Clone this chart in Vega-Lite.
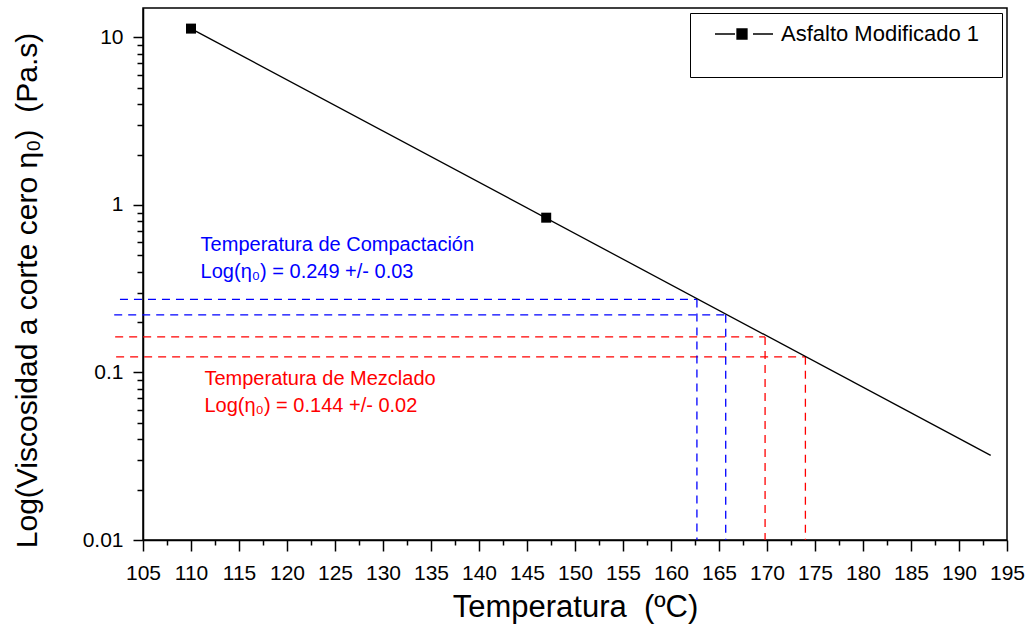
{
  "$schema": "https://vega.github.io/schema/vega-lite/v6.json",
  "autosize": "none",
  "width": 864,
  "height": 532,
  "padding": {"left": 143, "top": 8, "right": 22, "bottom": 91},
  "background": "white",
  "config": {
    "font": "Liberation Sans",
    "view": {"stroke": "black", "strokeWidth": 1.5},
    "axis": {
      "grid": false,
      "domainColor": "black",
      "domainWidth": 1.5,
      "tickColor": "black",
      "tickWidth": 1.5,
      "labelColor": "black",
      "labelFont": "Liberation Sans",
      "labelFontSize": 21,
      "labelPadding": 8,
      "labelOverlap": false,
      "labelFlush": false,
      "titleFont": "Liberation Sans",
      "titleFontWeight": "normal",
      "titleFontSize": 31,
      "titleColor": "black"
    }
  },
  "datasets": {
    "points": [
      {"temp": 110, "visc": 11.3, "series": "Asfalto Modificado 1"},
      {"temp": 147, "visc": 0.84, "series": "Asfalto Modificado 1"}
    ],
    "fit": [
      {"temp": 110, "visc": 11.3},
      {"temp": 193.3, "visc": 0.032}
    ],
    "hlines": [
      {"xa": 102.6, "xb": 162.7, "y": 0.273, "grp": "Compactación"},
      {"xa": 102.0, "xb": 165.7, "y": 0.221, "grp": "Compactación"},
      {"xa": 102.1, "xb": 169.8, "y": 0.163, "grp": "Mezclado"},
      {"xa": 102.2, "xb": 174.0, "y": 0.124, "grp": "Mezclado"}
    ],
    "vlines": [
      {"x": 162.7, "ya": 0.273, "yb": 0.01, "grp": "Compactación"},
      {"x": 165.7, "ya": 0.221, "yb": 0.01, "grp": "Compactación"},
      {"x": 169.8, "ya": 0.163, "yb": 0.01, "grp": "Mezclado"},
      {"x": 174.0, "ya": 0.124, "yb": 0.01, "grp": "Mezclado"}
    ],
    "notes": [
      {"x": 111.0, "y": 0.58, "text": "Temperatura de Compactación", "grp": "Compactación"},
      {"x": 111.0, "y": 0.40, "text": "Log(η₀) = 0.249 +/- 0.03", "grp": "Compactación"},
      {"x": 111.4, "y": 0.0909, "text": "Temperatura de Mezclado", "grp": "Mezclado"},
      {"x": 111.4, "y": 0.063, "text": "Log(η₀) = 0.144 +/- 0.02", "grp": "Mezclado"}
    ]
  },
  "encoding": {
    "x": {
      "type": "quantitative",
      "scale": {"domain": [105, 195], "nice": false, "zero": false},
      "axis": {
        "title": "Temperatura \u00a0(ºC)",
        "values": [105, 107.5, 110, 112.5, 115, 117.5, 120, 122.5, 125, 127.5, 130, 132.5, 135, 137.5, 140, 142.5, 145, 147.5, 150, 152.5, 155, 157.5, 160, 162.5, 165, 167.5, 170, 172.5, 175, 177.5, 180, 182.5, 185, 187.5, 190, 192.5, 195],
        "labelExpr": "datum.value % 5 == 0 ? '' + datum.value : ''",
        "tickSize": {"condition": {"test": "datum.value % 5 == 0", "value": 11}, "value": 5},
        "labelPadding": 11,
        "titleBaseline": "middle",
        "titleY": 67
      }
    },
    "y": {
      "type": "quantitative",
      "scale": {"type": "log", "domain": [0.01, 15], "nice": false},
      "axis": {
        "title": "Log(Viscosidad a corte cero η₀) \u00a0(Pa.s)",
        "values": [0.01, 0.02, 0.03, 0.04, 0.05, 0.06, 0.07, 0.08, 0.09, 0.1, 0.2, 0.3, 0.4, 0.5, 0.6, 0.7, 0.8, 0.9, 1, 2, 3, 4, 5, 6, 7, 8, 9, 10],
        "labelExpr": "(datum.value == 0.01 || datum.value == 0.1 || datum.value == 1 || datum.value == 10) ? '' + datum.value : ''",
        "tickSize": {"condition": {"test": "datum.value == 0.01 || datum.value == 0.1 || datum.value == 1 || datum.value == 10", "value": 10}, "value": 6},
        "labelPadding": 10,
        "titleBaseline": "middle",
        "titleAngle": -90,
        "titleFontSize": 30,
        "titleX": -116,
        "titleY": 282
      }
    }
  },
  "layer": [
    {
      "data": {"name": "hlines"},
      "mark": {"type": "rule", "strokeDash": [8, 6], "strokeWidth": 1.3},
      "encoding": {
        "x": {"field": "xa"},
        "x2": {"field": "xb"},
        "y": {"field": "y"},
        "stroke": {"field": "grp", "type": "nominal", "scale": {"domain": ["Compactación", "Mezclado"], "range": ["#0000ff", "#ff0000"]}, "legend": null}
      }
    },
    {
      "data": {"name": "vlines"},
      "mark": {"type": "rule", "strokeDash": [8, 6], "strokeWidth": 1.3},
      "encoding": {
        "x": {"field": "x"},
        "y": {"field": "ya"},
        "y2": {"field": "yb"},
        "stroke": {"field": "grp", "type": "nominal", "scale": {"domain": ["Compactación", "Mezclado"], "range": ["#0000ff", "#ff0000"]}, "legend": null}
      }
    },
    {
      "data": {"name": "fit"},
      "mark": {"type": "line", "color": "black", "strokeWidth": 1.3},
      "encoding": {
        "x": {"field": "temp"},
        "y": {"field": "visc"}
      }
    },
    {
      "data": {"name": "points"},
      "mark": {"type": "point", "shape": "square", "filled": true, "size": 100, "opacity": 1},
      "encoding": {
        "x": {"field": "temp"},
        "y": {"field": "visc"},
        "color": {
          "field": "series",
          "type": "nominal",
          "scale": {"range": ["#000000"]},
          "legend": {
            "title": "____________________________",
            "titleOrient": "bottom",
            "titleFontSize": 20,
            "titleOpacity": 0,
            "titlePadding": 12,
            "titleLimit": 500,
            "orient": "top-right",
            "offset": 5,
            "padding": 0,
            "strokeColor": "black",
            "fillColor": "white",
            "symbolType": "M0.2,0H1.2M1.3,-0.25H1.8V0.25H1.3ZM2.1,0H3.1",
            "symbolSize": 1600,
            "symbolFillColor": "black",
            "symbolStrokeColor": "black",
            "symbolStrokeWidth": 1.3,
            "symbolOpacity": 1,
            "labelOffset": 49,
            "labelFontSize": 22,
            "labelFont": "Liberation Sans",
            "labelColor": "black",
            "labelLimit": 400
          }
        }
      }
    },
    {
      "data": {"name": "notes"},
      "mark": {"type": "text", "align": "left", "baseline": "middle", "fontSize": 20, "font": "Liberation Sans"},
      "encoding": {
        "x": {"field": "x"},
        "y": {"field": "y"},
        "text": {"field": "text"},
        "fill": {"field": "grp", "type": "nominal", "scale": {"domain": ["Compactación", "Mezclado"], "range": ["#0000ff", "#ff0000"]}, "legend": null}
      }
    }
  ]
}
